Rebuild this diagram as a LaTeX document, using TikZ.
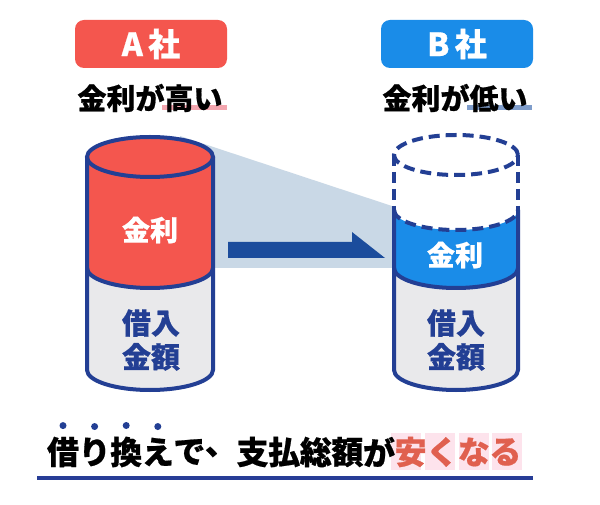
\documentclass[tikz,border=0pt]{standalone}
\usepackage{fontspec}
\setmainfont{Noto Sans CJK JP}[BoldFeatures={FakeBold=0.6}]
\begin{document}
\begin{tikzpicture}[x=1pt,y=1pt,
  navy/.style={draw=cnavy,line width=4pt},
  labelbox/.style={rounded corners=9pt,minimum width=152pt,minimum height=48pt,inner sep=0pt,text=white,font=\fontsize{32}{32}\selectfont\bfseries},
  headline/.style={inner sep=0pt,font=\fontsize{29}{29}\selectfont\bfseries},
  cyltext/.style={inner sep=0pt,font=\fontsize{28}{28}\selectfont\bfseries},
  basetext/.style={inner sep=0pt,align=center,text=cnavy,font=\fontsize{29}{34}\selectfont\bfseries},
  sumchar/.style={inner sep=0pt,font=\fontsize{32}{32}\selectfont\bfseries}]
\definecolor{cred}{HTML}{F4564E}
\definecolor{cblue}{HTML}{1A8CE8}
\definecolor{cnavy}{HTML}{233F94}
\definecolor{cgray}{HTML}{E9E9EB}
\definecolor{cshade}{HTML}{C9D8E6}
\definecolor{carrow}{HTML}{1B4C9C}
\definecolor{cpinkline}{HTML}{F3A5AE}
\definecolor{cblueline}{HTML}{7F9DCB}
\definecolor{ccoral}{HTML}{E0604F}
\definecolor{chigh}{HTML}{FDE3EC}
\definecolor{cbase}{HTML}{273D96}
\useasboundingbox (0,0) rectangle (600,504);
\fill[white] (0,0) rectangle (600,504);
% shaded projection
\fill[cshade] (180,368) -- (395,297) -- (395,236) -- (180,236) -- cycle;
% arrow
\fill[carrow] (228,262) -- (352,262) -- (352,272) -- (385,246) -- (228,246) -- cycle;
% ---------- left cylinder ----------
\fill[cred] (87,347) -- (87,236) arc[start angle=180,end angle=360,x radius=63,y radius=20] -- (213,347) arc[start angle=0,end angle=180,x radius=63,y radius=20] -- cycle;
\fill[cgray] (87,236) arc[start angle=180,end angle=360,x radius=63,y radius=20] -- (213,134) arc[start angle=0,end angle=-180,x radius=63,y radius=20] -- cycle;
\draw[navy] (150,347) ellipse[x radius=63,y radius=20];
\draw[navy] (87,236) arc[start angle=180,end angle=360,x radius=63,y radius=20];
\draw[navy,line join=round] (87,347) -- (87,134) arc[start angle=180,end angle=360,x radius=63,y radius=20] -- (213,347);
\node[cyltext,text=white] (lrate) at (150,274) {金利};
\node[basetext] (lbase) at (151,164) {借入\\金額};
% ---------- right cylinder ----------
\fill[white] (394,349) -- (394,294) arc[start angle=180,end angle=360,x radius=62,y radius=20] -- (518,349) arc[start angle=0,end angle=180,x radius=62,y radius=20] -- cycle;
\fill[cblue] (394,294) arc[start angle=180,end angle=360,x radius=62,y radius=20] -- (518,236) arc[start angle=0,end angle=-180,x radius=62,y radius=20] -- cycle;
\fill[cgray] (394,236) arc[start angle=180,end angle=360,x radius=62,y radius=20] -- (518,134) arc[start angle=0,end angle=-180,x radius=62,y radius=20] -- cycle;
\begin{scope}[dash pattern=on 11pt off 6pt]
\draw[navy] (456,349) ellipse[x radius=62,y radius=20];
\draw[navy] (394,294) arc[start angle=180,end angle=360,x radius=62,y radius=20];
\draw[navy] (394,349) -- (394,294);
\draw[navy] (518,349) -- (518,294);
\end{scope}
\draw[navy] (394,236) arc[start angle=180,end angle=360,x radius=62,y radius=20];
\draw[navy,line join=round] (394,294) -- (394,134) arc[start angle=180,end angle=360,x radius=62,y radius=20] -- (518,294);
\node[cyltext,text=white] (rrate) at (455,249) {金利};
\node[basetext] (rbase) at (456,164) {借入\\金額};
% ---------- headers ----------
\node[labelbox,fill=cred] (aco) at (151,460) {A\,社};
\node[labelbox,fill=cblue] (bco) at (457,460) {B\,社};
\fill[cpinkline] (162,394) rectangle (227,399);
\fill[cblueline] (467,394) rectangle (532,399);
\node[headline] (ahead) at (150,406) {金利が高い};
\node[headline] (bhead) at (455,406) {金利が低い};
% ---------- bottom ----------
\foreach \cx in {406,440,474,507} {\fill[chigh] (\cx-15,34) rectangle (\cx+15,71);}
\foreach \ch [count=\i from 0] in {借,り,換,え,で,、,支,払,総,額,が} {
  \node[sumchar] (s\i) at (63+\i*31.6,52) {\ch};}
\foreach \ch [count=\i from 11] in {安,く,な,る} {
  \node[sumchar,text=ccoral] (s\i) at (63+\i*31.6,52) {\ch};}
\foreach \i in {0,1,2,3} {\fill[cnavy] ([yshift=11pt]s\i.north) circle[radius=3.5];}
\fill[cbase] (37,24) rectangle (533,28);
\end{tikzpicture}
\end{document}
